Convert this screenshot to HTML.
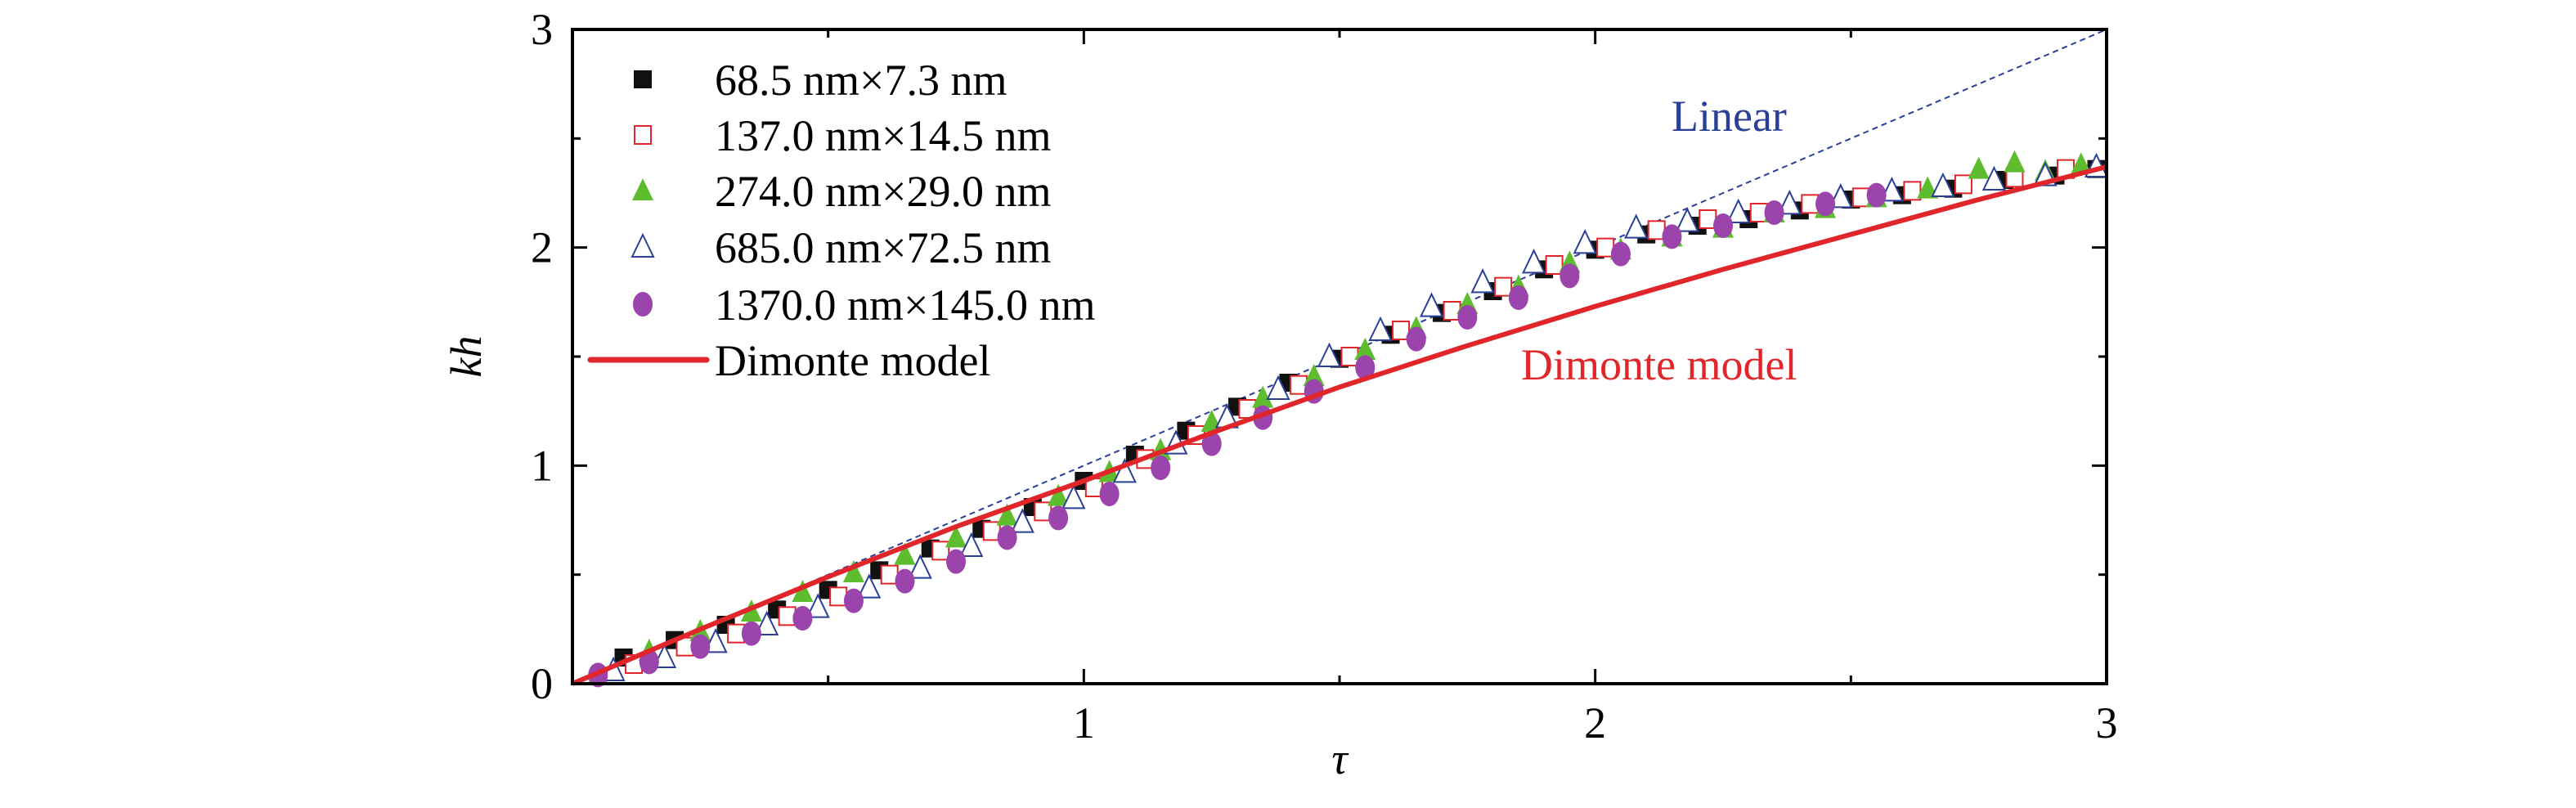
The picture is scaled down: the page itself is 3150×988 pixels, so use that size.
<!DOCTYPE html>
<html><head><meta charset="utf-8"><style>
html,body{margin:0;padding:0;background:#fff;}
svg{display:block;font-family:"Liberation Serif",serif;}
</style></head><body>
<svg id="chart" width="3150" height="988" viewBox="0 0 3150 988" xmlns="http://www.w3.org/2000/svg">
<g id="marks"></g>
<g id="axes"></g>
<g id="legend"></g>
</svg>
<script>
const xTicks=[0,1,2,3];
const yTicks=[0,1,2,3];
const tauA=[0.1,0.2,0.3,0.4,0.5,0.6,0.7,0.8,0.9,1.0,1.1,1.2,1.3,1.4,1.5,1.6,1.7,1.8,1.9,2.0,2.1,2.2,2.3,2.4,2.5,2.6,2.7,2.8,2.9,2.98];
const khA=[0.12,0.2,0.27,0.34,0.43,0.52,0.62,0.71,0.81,0.93,1.05,1.16,1.27,1.38,1.49,1.6,1.7,1.8,1.9,1.99,2.06,2.1,2.13,2.17,2.22,2.24,2.27,2.31,2.33,2.36];
const tauB=[0.12,0.22,0.32,0.42,0.52,0.62,0.72,0.82,0.92,1.02,1.12,1.22,1.32,1.42,1.52,1.62,1.72,1.82,1.92,2.02,2.12,2.22,2.32,2.42,2.52,2.62,2.72,2.82,2.92];
const khB=[0.09,0.17,0.23,0.31,0.4,0.5,0.61,0.7,0.79,0.9,1.03,1.14,1.26,1.37,1.5,1.62,1.71,1.82,1.92,2.0,2.08,2.13,2.16,2.2,2.23,2.26,2.29,2.32,2.36];
const tauC=[0.05,0.15,0.25,0.35,0.45,0.55,0.65,0.75,0.85,0.95,1.05,1.15,1.25,1.35,1.45,1.55,1.65,1.75,1.85,1.95,2.05,2.15,2.25,2.35,2.45,2.55,2.65,2.75,2.82,2.88,2.95];
const khC=[0.04,0.15,0.24,0.33,0.42,0.51,0.59,0.67,0.77,0.86,0.97,1.07,1.2,1.31,1.41,1.53,1.63,1.74,1.82,1.93,1.99,2.05,2.09,2.16,2.18,2.23,2.27,2.36,2.39,2.35,2.38];
const tauD=[0.08,0.18,0.28,0.38,0.48,0.58,0.68,0.78,0.88,0.98,1.08,1.18,1.28,1.38,1.48,1.58,1.68,1.78,1.88,1.98,2.08,2.18,2.28,2.38,2.48,2.58,2.68,2.78,2.88,2.98];
const khD=[0.06,0.12,0.19,0.27,0.35,0.44,0.53,0.63,0.74,0.85,0.97,1.1,1.22,1.35,1.5,1.62,1.73,1.84,1.93,2.02,2.09,2.12,2.16,2.2,2.23,2.26,2.28,2.31,2.33,2.37];
const tauE=[0.05,0.15,0.25,0.35,0.45,0.55,0.65,0.75,0.85,0.95,1.05,1.15,1.25,1.35,1.45,1.55,1.65,1.75,1.85,1.95,2.05,2.15,2.25,2.35,2.45,2.55];
const khE=[0.04,0.1,0.17,0.23,0.3,0.38,0.47,0.56,0.67,0.76,0.87,0.99,1.1,1.22,1.34,1.45,1.58,1.68,1.77,1.87,1.97,2.05,2.1,2.16,2.2,2.24];
const tauM=[0,0.25,0.5,0.75,1.0,1.25,1.5,1.75,2.0,2.25,2.5,2.75,3.0];
const khM=[0,0.25,0.49,0.72,0.93,1.15,1.36,1.55,1.73,1.9,2.06,2.22,2.37];
const tauL=[0,3];
const khL=[0,3];

const X0=700,X1=2576,Y0=836,Y1=36;
const sx=t=>X0+t/3*(X1-X0);
const sy=v=>Y0-v/3*(Y0-Y1);
const NS="http://www.w3.org/2000/svg";
function mk(tag,attrs,parent){const e=document.createElementNS(NS,tag);for(const k in attrs)e.setAttribute(k,attrs[k]);parent.appendChild(e);return e;}
const marks=document.getElementById('marks');
const axes=document.getElementById('axes');
const legend=document.getElementById('legend');
const FS=54;

function marker(type,cx,cy,parent){
  let e;
  if(type==='sqf'){e=mk('rect',{x:cx-11,y:cy-11,width:22,height:22,fill:'#111'},parent);}
  else if(type==='sqo'){e=mk('rect',{x:cx-10,y:cy-11,width:20,height:22,fill:'#fff',stroke:'#e0262b','stroke-width':2},parent);}
  else if(type==='trf'){e=mk('polygon',{points:`${cx},${cy-15} ${cx-13},${cy+12} ${cx+13},${cy+12}`,fill:'#5dbd2e'},parent);}
  else if(type==='tro'){e=mk('polygon',{points:`${cx},${cy-15} ${cx-13},${cy+12} ${cx+13},${cy+12}`,fill:'#fff',stroke:'#2b3f96','stroke-width':2},parent);}
  else {e=mk('ellipse',{cx:cx,cy:cy,rx:12,ry:15,fill:'#9b44ab'},parent);}
  return e;
}
const lin=mk('line',{x1:sx(tauL[0]),y1:sy(khL[0]),x2:sx(tauL[1]),y2:sy(khL[1]),stroke:'#2b3f96','stroke-width':2,'stroke-dasharray':'7,5'},marks);


const series=[['sqf',tauA,khA,'series-68-5nm'],['sqo',tauB,khB,'series-137nm'],['trf',tauC,khC,'series-274nm'],['tro',tauD,khD,'series-685nm'],['dot',tauE,khE,'series-1370nm']];
series.forEach(s=>{
  const g=mk('g',{},marks);
  
  
  s[1].forEach((t,i)=>{
    const m=marker(s[0],sx(t),sy(s[2][i]),g);
    
    
  });
});
const model=mk('polyline',{points:tauM.map((t,i)=>sx(t)+','+sy(khM[i])).join(' '),fill:'none',stroke:'#e0262b','stroke-width':6},marks);



const fr=mk('rect',{x:X0,y:Y1,width:X1-X0,height:Y0-Y1,fill:'none',stroke:'#000','stroke-width':4},axes);


for(let v=0;v<=3.001;v+=0.5){
  const major=Math.abs(v-Math.round(v))<1e-6, L=major?18:10;
  mk('line',{x1:sx(v),y1:Y0,x2:sx(v),y2:Y0-L,stroke:'#000','stroke-width':3},axes);
  mk('line',{x1:sx(v),y1:Y1,x2:sx(v),y2:Y1+L,stroke:'#000','stroke-width':3},axes);
  mk('line',{x1:X0,y1:sy(v),x2:X0+L,y2:sy(v),stroke:'#000','stroke-width':3},axes);
  mk('line',{x1:X1,y1:sy(v),x2:X1-L,y2:sy(v),stroke:'#000','stroke-width':3},axes);
}
xTicks.forEach(v=>{if(v===0)return;const t=mk('text',{x:sx(v),y:Y0+66,'font-size':FS,'text-anchor':'middle'},axes);t.textContent=v;
  
  });
yTicks.forEach(v=>{const t=mk('text',{x:X0-24,y:sy(v)+18,'font-size':FS,'text-anchor':'end'},axes);t.textContent=v;
  
  });
const xt=mk('text',{x:(X0+X1)/2,y:946,'font-size':FS,'font-style':'italic','text-anchor':'middle'},axes);xt.textContent='τ';


const yt=mk('text',{x:0,y:0,'font-size':FS,'font-style':'italic','text-anchor':'middle',transform:'translate(588,436) rotate(-90)'},axes);yt.textContent='kh';


const ll=mk('text',{x:2044,y:160,'font-size':FS,fill:'#2b3f96'},axes);ll.textContent='Linear';


const dl=mk('text',{x:1860,y:464,'font-size':FS,fill:'#e0262b'},axes);dl.textContent='Dimonte model';



const labels=['68.5 nm×7.3 nm','137.0 nm×14.5 nm','274.0 nm×29.0 nm','685.0 nm×72.5 nm','1370.0 nm×145.0 nm'];
const types=['sqf','sqo','trf','tro','dot'];
const rowsY=[97,165,233,302,372];
labels.forEach((lab,i)=>{
  const g=mk('g',{},legend);
  
  
  marker(types[i],786,rowsY[i],g);
  const t=mk('text',{x:874,y:rowsY[i]+19,'font-size':FS},g);t.textContent=lab;
});
const g=mk('g',{},legend);


mk('line',{x1:722,y1:440,x2:864,y2:440,stroke:'#e0262b','stroke-width':7,'stroke-linecap':'round'},g);
const dt=mk('text',{x:874,y:459,'font-size':FS},g);dt.textContent='Dimonte model';
</script>
</body></html>
